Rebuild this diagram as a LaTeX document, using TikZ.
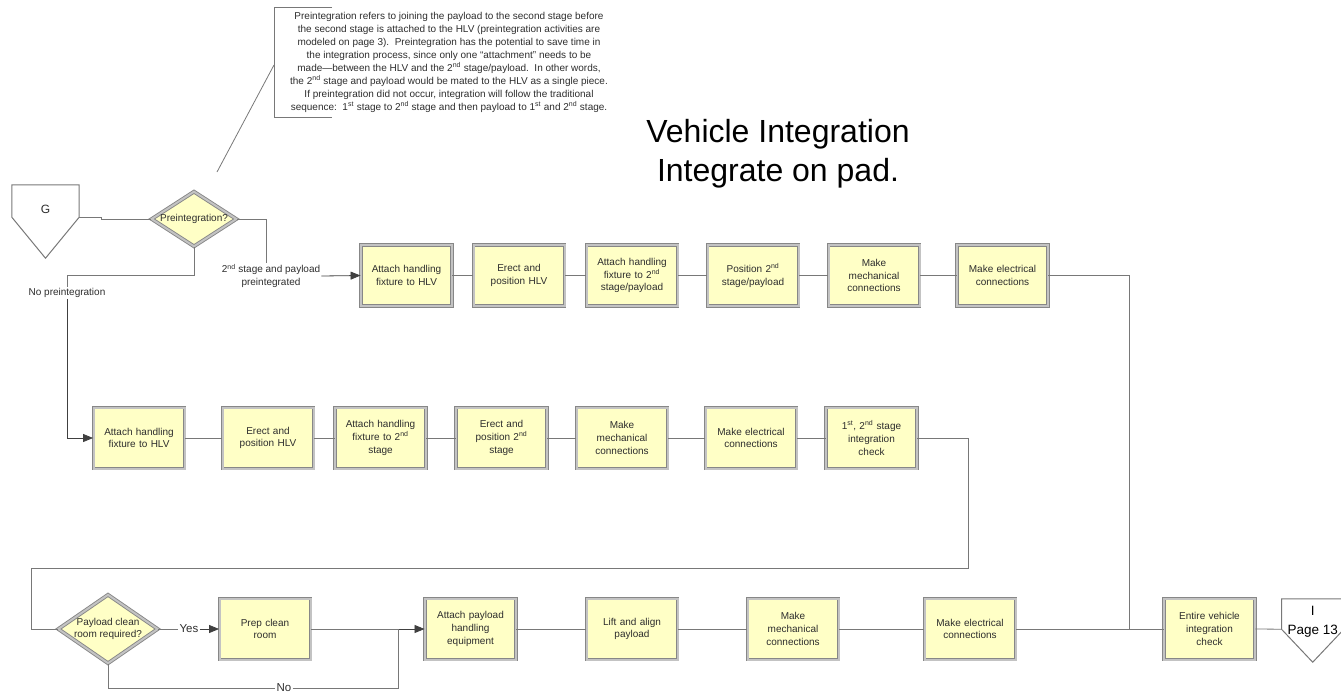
\documentclass[tikz,border=0pt]{standalone}
\usepackage{fontspec}
\setmainfont{Liberation Sans}
\usetikzlibrary{arrows.meta,shapes.geometric}

\definecolor{boxfill}{RGB}{255,255,198}
\definecolor{boxedge}{RGB}{135,135,135}
\definecolor{boxlite}{RGB}{195,195,195}
\definecolor{wire}{RGB}{120,120,120}
\definecolor{ink}{RGB}{45,45,45}

\begin{document}
\begin{tikzpicture}[x=1pt, y=-1pt, every node/.style={font=\fontsize{10}{12.7}\selectfont, align=center, inner sep=1pt, text=ink}, >={Triangle[length=10pt,width=8pt]},
	act/.style={draw=boxedge, double=boxlite, line width=.9pt, double distance=2pt, fill=boxfill, minimum width=91pt, minimum height=61pt, text width=88pt},
	ask/.style={draw=boxedge, double=boxlite, line width=.9pt, double distance=2pt, fill=boxfill, shape=diamond, inner sep=0pt},
	wire/.style={draw=wire, line width=.8pt},
	feed/.style={draw=black!75, line width=.8pt, ->},
	offpage/.style={draw=wire, line width=1pt, fill=white}]
	\useasboundingbox (0,0) rectangle (1341,694);

	\node[font=\fontsize{32}{39}\selectfont, text=black] (title) at (778,154) {Vehicle Integration\\Integrate on pad.};
	\node[font=\fontsize{10}{13}\selectfont] (note) at (449,62) {Preintegration refers to joining the payload to the second stage before\\the second stage is attached to the HLV (preintegration activities are\\modeled on page 3).\ \ Preintegration has the potential to save time in\\the integration process, since only one ``attachment'' needs to be\\made---between the HLV and the 2\textsuperscript{nd} stage/payload.\ \ In other words,\\the 2\textsuperscript{nd} stage and payload would be mated to the HLV as a single piece.\\If preintegration did not occur, integration will follow the traditional\\sequence:\ \ 1\textsuperscript{st} stage to 2\textsuperscript{nd} stage and then payload to 1\textsuperscript{st} and 2\textsuperscript{nd} stage.};
	\coordinate (pin) at (274,65);
	\coordinate (tip) at (217,172);
	\draw[wire] (332,7) -- (274,7) -- (274,117) -- (332,117);
	\draw[wire] (pin) -- (tip);

	\node[minimum width=67pt, minimum height=32pt, inner sep=0pt] (gpage) at (45.5,201) {};
	\draw[offpage] (gpage.north west) -- (gpage.north east) -- (gpage.south east) -- ([yshift=-41pt]gpage.south) -- (gpage.south west) -- cycle;
	\node[font=\fontsize{12}{14}\selectfont] (glabel) at (45.5,209) {G};

	\node[ask, aspect=1.55, minimum width=85pt, minimum height=55pt] (pre) at (194,219) {Preintegration?};
	\node (lpre) at (271,276) {2\textsuperscript{nd} stage and payload\\preintegrated};
	\node (lno) at (67,293) {No preintegration};

	\foreach \n/\x/\t in {b1/406.5/{Attach handling\\fixture to HLV}, b2/519/{Erect and\\position HLV}, b3/632/{Attach handling\\fixture to 2\textsuperscript{nd}\\stage/payload}, b4/753/{Position 2\textsuperscript{nd}\\stage/payload}, b5/874/{Make\\mechanical\\connections}, b6/1002.5/{Make electrical\\connections}}
		\node[act] (\n) at (\x,275.5) {\t};
	\foreach \n/\x/\t in {c1/139/{Attach handling\\fixture to HLV}, c2/268/{Erect and\\position HLV}, c3/380.5/{Attach handling\\fixture to 2\textsuperscript{nd}\\stage}, c4/501.5/{Erect and\\position 2\textsuperscript{nd}\\stage}, c5/622/{Make\\mechanical\\connections}, c6/751/{Make electrical\\connections}, c7/871.5/{1\textsuperscript{st}, 2\textsuperscript{nd} stage\\integration\\check}}
		\node[act] (\n) at (\x,438) {\t};
	\foreach \n/\x/\t in {prep/265/{Prep clean\\room}, att/470.5/{Attach payload\\handling\\equipment}, lift/632/{Lift and align\\payload}, mech/793/{Make\\mechanical\\connections}, elec/970/{Make electrical\\connections}, entire/1209.5/{Entire vehicle\\integration\\check}}
		\node[act] (\n) at (\x,629) {\t};

	\node[ask, aspect=1.45, minimum width=97pt, minimum height=67pt] (cd) at (108,629) {Payload clean\\room required?};
	\node[font=\fontsize{11.5}{13}\selectfont] (lyes) at (189,629) {Yes};
	\node[font=\fontsize{11.5}{13}\selectfont] (lnop) at (284,688) {No};

	\node[minimum width=62pt, minimum height=30pt, inner sep=0pt] (ipage) at (1312.7,614) {};
	\draw[offpage] (ipage.north west) -- (ipage.north east) -- (ipage.south east) -- ([yshift=-33pt]ipage.south) -- (ipage.south west) -- cycle;
	\node[font=\fontsize{13.5}{19}\selectfont, text=black] (ilabel) at (1312.7,622) {I\\Page 13};

	\coordinate (jn) at (1129,629);
	\coordinate (mg) at (398,629);
	\coordinate (loopr) at (968,568);
	\coordinate (loopl) at (31,568);

	\draw[wire] (gpage.south east) -- ++(22,0) |- (pre.west);
	\draw[wire] (pre.east) -| ([xshift=-5pt]lpre.north);
	\draw[feed] (lpre.east) -- (b1.west);
	\draw[wire] (pre.south) -- ++(0,28) -| (lno.north);
	\draw[feed] (lno.south) |- (c1.west);
	\foreach \a/\b in {b1/b2, b2/b3, b3/b4, b4/b5, b5/b6, c1/c2, c2/c3, c3/c4, c4/c5, c5/c6, c6/c7, att/lift, lift/mech, mech/elec, elec/entire}
		\draw[wire] (\a) -- (\b);
	\draw[wire] (b6.east) -| (jn);
	\draw[wire] (c7.east) -| (loopr) -- (loopl) |- (cd.west);
	\draw[wire] (cd.east) -- (lyes.west);
	\draw[feed] (lyes.east) -- (prep.west);
	\draw[wire] (prep.east) -- (mg);
	\draw[feed] (mg) -- (att.west);
	\draw[wire] (cd.south) |- (lnop.west);
	\draw[wire] (lnop.east) -| (mg);
	\draw[wire] (entire.east) -- (ipage.south west);
\end{tikzpicture}
\end{document}
